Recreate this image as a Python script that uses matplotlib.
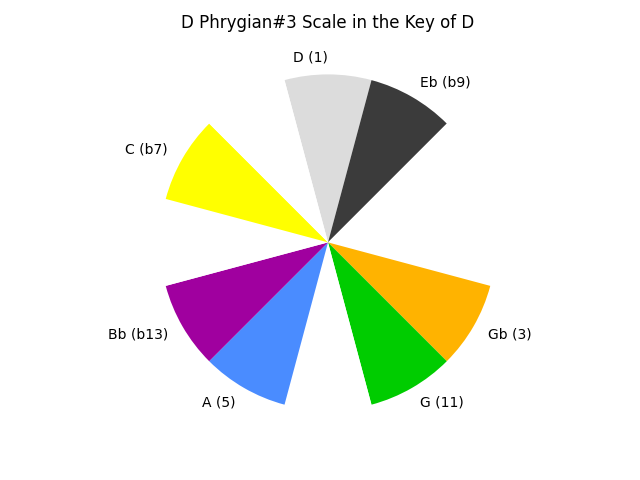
import matplotlib
matplotlib.use('Agg')
import matplotlib.pyplot as plt

# chromatic notes from D, clockwise
notes = ['D', 'Eb', 'E', 'F', 'Gb', 'G', 'Ab', 'A', 'Bb', 'B', 'C', 'Db']
degrees = ['1', 'b9', '', '', '3', '11', '', '5', 'b13', '', 'b7', '']
in_scale = [True, True, False, False, True, True, False, True, True, False, True, False]
slice_sizes = [1] * 12
note_colors = ['#dcdcdc', '#3b3b3b', '#ffffff', '#ffffff', '#ffb300', '#00cc00',
               '#ffffff', '#4a8cff', '#a0009f', '#ffffff', '#ffff00', '#ffffff']

labels = [f'{n} ({d})' if s else '' for n, d, s in zip(notes, degrees, in_scale)]

fig, ax = plt.subplots(figsize=(6.4, 4.8), dpi=100)
wedges, texts = ax.pie(slice_sizes, labels=labels, colors=note_colors,
                       startangle=105, counterclock=False, labeldistance=1.1)
texts[0].set_ha('right')
ax.set_xlim(-1.1, 1.1)
ax.set_ylim(-1.1, 1.1)
ax.set_title('D Phrygian#3 Scale in the Key of D', pad=21)

plt.savefig('out.png', dpi=100)
